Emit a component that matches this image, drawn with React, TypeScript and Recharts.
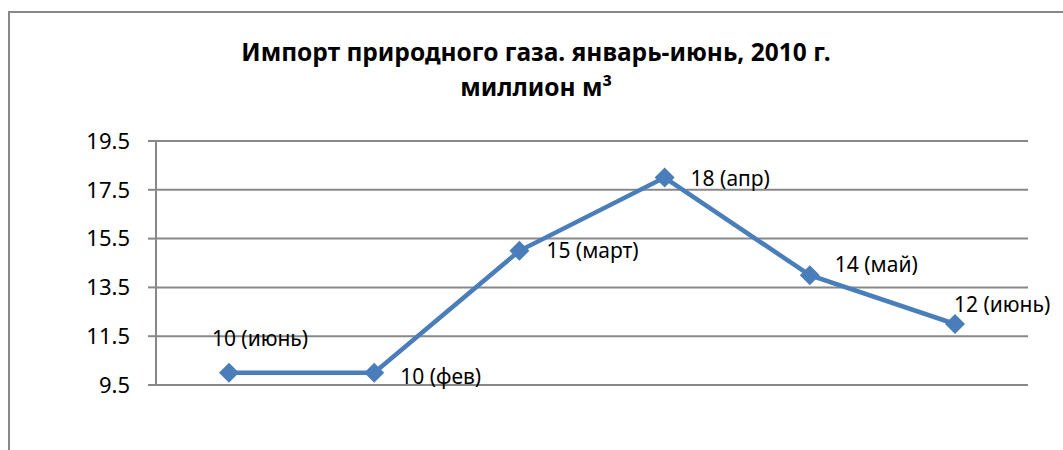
import React from 'react';
import { LineChart, Line, XAxis, YAxis, CartesianGrid } from 'recharts';

const months = ['янв', 'фев', 'март', 'апр', 'май', 'июнь'];
const imports = [10, 10, 15, 18, 14, 12];
const pointLabels = ['10 (июнь)', '10 (фев)', '15 (март)', '18 (апр)', '14 (май)', '12 (июнь)'];
const yTicks = [9.5, 11.5, 13.5, 15.5, 17.5, 19.5];

// where each data label sits relative to its point
const labelOffsets = [
    { dx: 31, dy: -35, anchor: 'middle' },
    { dx: 26, dy: 3, anchor: 'start' },
    { dx: 27, dy: -1, anchor: 'start' },
    { dx: 26, dy: 0, anchor: 'start' },
    { dx: 25, dy: -11, anchor: 'start' },
    { dx: -1, dy: -20, anchor: 'start' },
];

const FONT = '"Noto Sans", sans-serif';

const Diamond = (props: any) => {
    const { cx, cy } = props;
    if (cx == null || cy == null) return null;
    const r = 10;
    return (
        <polygon
            points={`${cx},${cy - r} ${cx + r},${cy} ${cx},${cy + r} ${cx - r},${cy}`}
            fill="#4a7ebb"
        />
    );
};

const PointLabel = (props: any) => {
    const { x, y, index } = props;
    const o = labelOffsets[index];
    return (
        <text
            x={x + o.dx}
            y={y + o.dy}
            textAnchor={o.anchor}
            dominantBaseline="central"
            fontSize={21}
            fontFamily={FONT}
            fill="#000"
        >
            {pointLabels[index]}
        </text>
    );
};

export default function App() {
    const data = months.map((m, i) => ({ name: m, value: imports[i] }));

    return (
        <div style={{ position: 'absolute', left: 0, top: 0, width: 1063, height: 450, background: '#fff', overflow: 'hidden' }}>
            <div style={{ position: 'absolute', left: 8, top: 11, width: 1100, height: 500, borderLeft: '2px solid #888', borderTop: '2px solid #888' }} />
            <div style={{ position: 'absolute', left: 0, top: 34, width: 1072, textAlign: 'center', fontFamily: FONT, fontWeight: 'bold', fontSize: 24.5, lineHeight: '35px', color: '#000' }}>
                Импорт природного газа. январь-июнь, 2010 г.<br />миллион м³
            </div>
            <div style={{ position: 'absolute', left: 0, top: 0 }}>
                <LineChart
                    width={1063}
                    height={450}
                    data={data}
                    margin={{ top: 141, right: 35, left: 92, bottom: 65 }}
                >
                    <CartesianGrid horizontal vertical={false} stroke="#888" strokeWidth={2} />
                    <XAxis dataKey="name" hide padding={{ left: 73, right: 73 }} />
                    <YAxis
                        width={64}
                        domain={[9.5, 19.5]}
                        ticks={yTicks}
                        interval={0}
                        tickSize={8}
                        tickMargin={18}
                        stroke="#888"
                        strokeWidth={2}
                        tick={{ fill: '#000', fontSize: 22, fontFamily: FONT }}
                    />
                    <Line
                        type="linear"
                        dataKey="value"
                        stroke="#4a7ebb"
                        strokeWidth={4.5}
                        dot={<Diamond />}
                        activeDot={false}
                        label={<PointLabel />}
                        isAnimationActive={false}
                    />
                </LineChart>
            </div>
        </div>
    );
}
